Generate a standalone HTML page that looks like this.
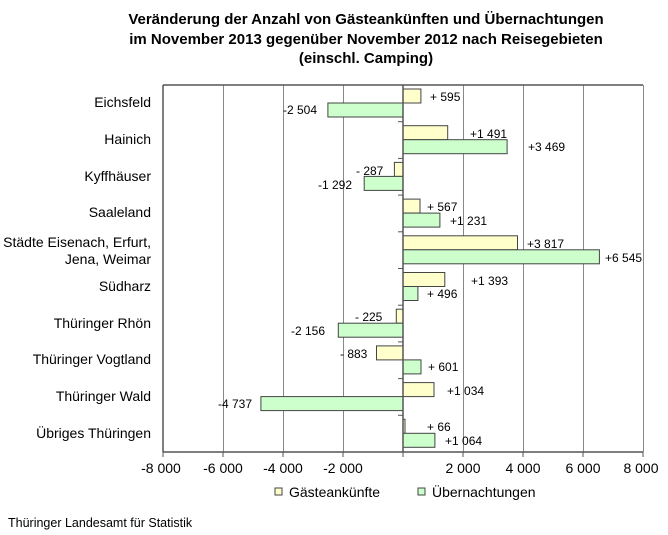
<!DOCTYPE html>
<html><head><meta charset="utf-8"><style>
body{margin:0;background:#fff;}
svg{display:block;font-family:"Liberation Sans",Arial,sans-serif;}
</style></head><body>
<svg width="668" height="535" viewBox="0 0 668 535">
<g font-weight="bold" font-size="15" text-anchor="middle" fill="#000">
<text x="366" y="24">Veränderung der Anzahl von Gästeankünften und Übernachtungen</text>
<text x="366" y="44">im November 2013 gegenüber November 2012 nach Reisegebieten</text>
<text x="366" y="63">(einschl. Camping)</text>
</g>
<g stroke="#888" stroke-width="1">
<line x1="223.5" y1="85" x2="223.5" y2="452"/>
<line x1="283.5" y1="85" x2="283.5" y2="452"/>
<line x1="343.5" y1="85" x2="343.5" y2="452"/>
<line x1="463.5" y1="85" x2="463.5" y2="452"/>
<line x1="523.5" y1="85" x2="523.5" y2="452"/>
<line x1="583.5" y1="85" x2="583.5" y2="452"/>
<line x1="643.5" y1="85" x2="643.5" y2="452"/>
</g>
<g stroke="#555" stroke-width="1.5" fill="none">
<line x1="163" y1="85" x2="643" y2="85"/>
<line x1="163" y1="85" x2="163" y2="452"/>
</g>
<g stroke="#444" stroke-width="1">
<rect x="403" y="89" width="17.9" height="14" fill="#ffffcc"/>
<rect x="327.9" y="103" width="75.1" height="14" fill="#ccffcc"/>
<rect x="403" y="125.7" width="44.7" height="14" fill="#ffffcc"/>
<rect x="403" y="139.7" width="104.1" height="14" fill="#ccffcc"/>
<rect x="394.4" y="162.4" width="8.6" height="14" fill="#ffffcc"/>
<rect x="364.2" y="176.4" width="38.8" height="14" fill="#ccffcc"/>
<rect x="403" y="199.1" width="17" height="14" fill="#ffffcc"/>
<rect x="403" y="213.1" width="36.9" height="14" fill="#ccffcc"/>
<rect x="403" y="235.8" width="114.5" height="14" fill="#ffffcc"/>
<rect x="403" y="249.8" width="196.4" height="14" fill="#ccffcc"/>
<rect x="403" y="272.5" width="41.8" height="14" fill="#ffffcc"/>
<rect x="403" y="286.5" width="14.9" height="14" fill="#ccffcc"/>
<rect x="396.3" y="309.2" width="6.7" height="14" fill="#ffffcc"/>
<rect x="338.3" y="323.2" width="64.7" height="14" fill="#ccffcc"/>
<rect x="376.5" y="345.9" width="26.5" height="14" fill="#ffffcc"/>
<rect x="403" y="359.9" width="18" height="14" fill="#ccffcc"/>
<rect x="403" y="382.6" width="31" height="14" fill="#ffffcc"/>
<rect x="260.9" y="396.6" width="142.1" height="14" fill="#ccffcc"/>
<rect x="403" y="419.3" width="2" height="14" fill="#ffffcc"/>
<rect x="403" y="433.3" width="31.9" height="14" fill="#ccffcc"/>
</g>
<g stroke="#555" stroke-width="1.5">
<line x1="403" y1="85" x2="403" y2="452"/>
<line x1="163" y1="452" x2="643" y2="452"/>
</g>
<g stroke="#555" stroke-width="1">
<line x1="398" y1="121.7" x2="403" y2="121.7"/><line x1="398" y1="158.4" x2="403" y2="158.4"/>
<line x1="398" y1="195.1" x2="403" y2="195.1"/><line x1="398" y1="231.8" x2="403" y2="231.8"/>
<line x1="398" y1="268.5" x2="403" y2="268.5"/><line x1="398" y1="305.2" x2="403" y2="305.2"/>
<line x1="398" y1="341.9" x2="403" y2="341.9"/><line x1="398" y1="378.6" x2="403" y2="378.6"/>
<line x1="398" y1="415.3" x2="403" y2="415.3"/>
<line x1="163" y1="452" x2="163" y2="457"/><line x1="223" y1="452" x2="223" y2="457"/>
<line x1="283" y1="452" x2="283" y2="457"/><line x1="343" y1="452" x2="343" y2="457"/>
<line x1="403" y1="452" x2="403" y2="457"/><line x1="463" y1="452" x2="463" y2="457"/>
<line x1="523" y1="452" x2="523" y2="457"/><line x1="583" y1="452" x2="583" y2="457"/>
<line x1="643" y1="452" x2="643" y2="457"/>
</g>
<g font-size="12" fill="#000">
<text x="430" y="101">+ 595</text><text x="283" y="114">-2 504</text>
<text x="470" y="138">+1 491</text><text x="528" y="151">+3 469</text>
<text x="356" y="175">- 287</text><text x="318" y="189">-1 292</text>
<text x="427" y="211">+ 567</text><text x="450" y="225">+1 231</text>
<text x="527" y="248">+3 817</text><text x="605" y="262">+6 545</text>
<text x="471" y="285">+1 393</text><text x="427" y="298">+ 496</text>
<text x="355" y="321">- 225</text><text x="291" y="335">-2 156</text>
<text x="340" y="358">- 883</text><text x="428" y="371">+ 601</text>
<text x="447" y="395">+1 034</text><text x="218" y="408">-4 737</text>
<text x="427" y="431">+ 66</text><text x="445" y="445">+1 064</text>
</g>
<g font-size="14" fill="#000" text-anchor="end">
<text x="151" y="107">Eichsfeld</text>
<text x="151" y="144">Hainich</text>
<text x="151" y="181">Kyffhäuser</text>
<text x="151" y="217">Saaleland</text>
<text x="151" y="247">Städte Eisenach, Erfurt,</text>
<text x="151" y="264">Jena, Weimar</text>
<text x="151" y="291">Südharz</text>
<text x="151" y="328">Thüringer Rhön</text>
<text x="151" y="364">Thüringer Vogtland</text>
<text x="151" y="401">Thüringer Wald</text>
<text x="151" y="438">Übriges Thüringen</text>
</g>
<g font-size="14" fill="#000" text-anchor="middle">
<text x="161" y="473">-8 000</text><text x="223" y="473">-6 000</text>
<text x="283" y="473">-4 000</text><text x="343" y="473">-2 000</text>
<text x="463" y="473">2 000</text><text x="523" y="473">4 000</text>
<text x="583" y="473">6 000</text><text x="641" y="473">8 000</text>
</g>
<rect x="275" y="488" width="7" height="7" fill="#ffffcc" stroke="#444"/>
<text x="289" y="497" font-size="14">Gästeankünfte</text>
<rect x="418" y="488" width="7" height="7" fill="#ccffcc" stroke="#444"/>
<text x="432" y="497" font-size="14">Übernachtungen</text>
<text x="8" y="527" font-size="12.5">Thüringer Landesamt für Statistik</text>
</svg>
</body></html>
